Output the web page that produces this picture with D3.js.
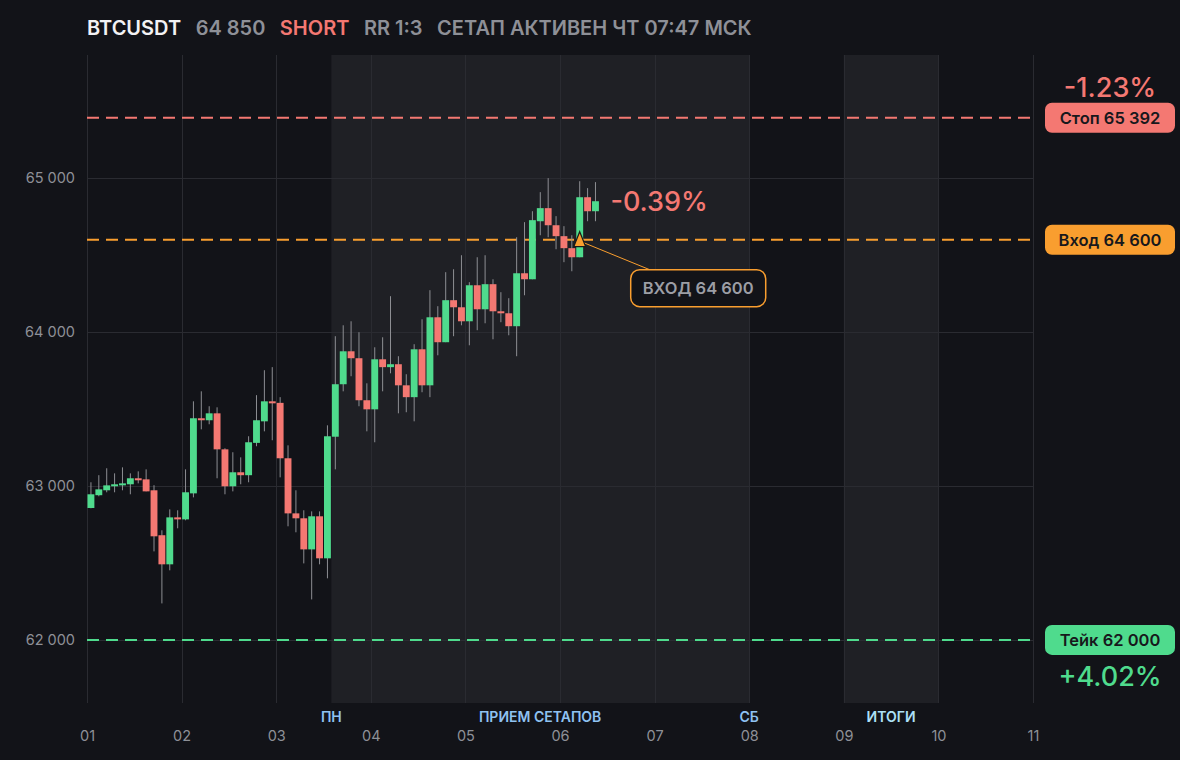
<!DOCTYPE html>
<html>
<head>
<meta charset="utf-8">
<script src="https://cdn.jsdelivr.net/npm/d3@7/dist/d3.min.js"></script>
<style>
  html, body { margin: 0; padding: 0; background: #121318; }
  svg text { font-family: Inter, "Noto Sans", sans-serif; }
</style>
</head>
<body>
<svg id="chart" width="1180" height="760"></svg>
<script>
// header
const symbol = "BTCUSDT"
const side = "SHORT"
const rrText = "RR 1:3"
const statusText = "СЕТАП АКТИВЕН ЧТ 07:47 МСК"

// 2h candles starting at day 01 00:00
const startDay = 1
const candleHours = 2
const opens  = [62857,62940,62972,62998,63005,63011,63050,63043,62972,62680,62491,62796,62783,62952,63440,63427,63472,63238,62998,63089,63070,63280,63420,63550,63540,63180,62822,62790,62588,62803,62530,63320,63661,63875,63830,63557,63498,63823,63772,63791,63654,63577,63888,63654,64096,63934,64207,64161,64070,64304,64148,64311,64135,64122,64038,64382,64343,64720,64805,64694,64623,64545,64486,64876,64785]
const highs  = [63024,63070,63115,63082,63121,63082,63095,63108,63005,62712,62848,62842,63108,63550,63615,63518,63511,63245,63219,63186,63323,63590,63752,63772,63577,63264,62972,62842,62835,62835,63394,63973,64044,64070,63999,63667,63901,63966,64233,63843,63726,63921,64083,64272,64168,64389,64408,64499,64324,64486,64499,64343,64259,64220,64616,64714,64785,64909,65000,64753,64688,64629,64980,64935,64974]
const lows   = [62855,62933,62959,62959,62972,62946,63017,62965,62575,62237,62452,62725,62777,62926,63368,63401,63050,62946,62965,63011,63024,63258,63355,63297,63056,62738,62699,62497,62263,62491,62400,63108,63615,63713,63518,63355,63284,63615,63732,63472,63479,63420,63609,63577,63849,63934,63973,64044,63914,64012,64057,63953,64064,63979,63843,64239,64343,64629,64616,64538,64454,64395,64486,64720,64720]
const closes = [62946,62978,63004,63011,63017,63050,63037,62965,62673,62491,62796,62783,62959,63440,63427,63472,63238,62998,63089,63070,63284,63427,63550,63537,63180,62822,62790,62588,62803,62530,63323,63661,63875,63830,63557,63498,63823,63772,63791,63654,63577,63888,63654,64096,63934,64207,64161,64070,64304,64148,64311,64135,64122,64038,64382,64343,64727,64805,64694,64623,64545,64486,64876,64785,64850]

// trade levels
const entryPrice = 64600
const stopPrice = 65392
const takePrice = 62000
const entryCandle = 62

// axes
const dayTicks = [1,2,3,4,5,6,7,8,9,10,11]
const priceTicks = [62000,63000,64000,65000]
const xDomain = [1, 11]
const yDomain = [61590, 65800]

// session bands (in days) and their captions
const bandStarts = [3.583, 9]
const bandEnds   = [8, 10]
const sessionLabels = ["ПН", "ПРИЕМ СЕТАПОВ", "СБ", "ИТОГИ"]
const sessionAt     = [3.583, 5.79, 8, 9.5]

const W = 1180, H = 760
const margin = {left: 87, right: 147, top: 55, bottom: 57}
const colors = {
	bg: "#121318", band: "#1f2025", grid: "#2a2b31", text: "#8e9097",
	up: "#4fdb8d", down: "#f47872", wick: "#8d8e93", entry: "#f99e2f",
	session: "#8fc2f2", session2: "#ade0f7"
}

const ru = d3.formatLocale({decimal: ",", thousands: "\u00a0", grouping: [3], currency: ["", ""], minus: "-"})
const fmtPrice = ru.format(",d")
const fmtPct = ru.format("+.2f")
const pnl = p => fmtPct((entryPrice - p) / entryPrice * 100).replace(",", ".") + "%"

const svg = d3.select("#chart")
svg.append("rect").attr("width", W).attr("height", H).attr("fill", colors.bg)

const x = d3.scaleLinear().domain(xDomain).range([margin.left, W - margin.right])
const y = d3.scaleLinear().domain(yDomain).range([H - margin.bottom, margin.top])
const plotTop = margin.top, plotBottom = H - margin.bottom

// session bands
svg.append("g").selectAll("rect").data(bandStarts).join("rect")
	.attr("x", (d, i) => x(d))
	.attr("width", (d, i) => x(bandEnds[i]) - x(d))
	.attr("y", plotTop).attr("height", plotBottom - plotTop)
	.attr("fill", colors.band)

// grid
svg.append("g").selectAll("line").data(dayTicks).join("line")
	.attr("x1", d => Math.round(x(d)) + 0.5).attr("x2", d => Math.round(x(d)) + 0.5)
	.attr("y1", plotTop).attr("y2", plotBottom)
	.attr("stroke", colors.grid).attr("stroke-width", 1)
svg.append("g").selectAll("line").data(priceTicks).join("line")
	.attr("x1", x.range()[0]).attr("x2", x.range()[1])
	.attr("y1", d => Math.round(y(d)) + 0.5).attr("y2", d => Math.round(y(d)) + 0.5)
	.attr("stroke", colors.grid).attr("stroke-width", 1)

// y axis labels
const yAxis = svg.append("g").attr("transform", `translate(${margin.left - 12},0)`)
	.call(d3.axisLeft(y).tickValues(priceTicks).tickFormat(fmtPrice).tickSize(0).tickPadding(0))
yAxis.select(".domain").remove()
yAxis.selectAll("text").attr("fill", colors.text).attr("font-size", 14.5)
	.attr("font-family", "Inter, sans-serif")

// x axis labels
const xAxis = svg.append("g").attr("transform", `translate(0,${plotBottom + 28})`)
	.call(d3.axisBottom(x).tickValues(dayTicks).tickFormat(d3.format("02d")).tickSize(0).tickPadding(0))
xAxis.select(".domain").remove()
xAxis.selectAll("text").attr("fill", colors.text).attr("font-size", 14.5)
	.attr("font-family", "Inter, sans-serif")

// session captions
svg.append("g").selectAll("text").data(sessionLabels).join("text")
	.attr("x", (d, i) => x(sessionAt[i]))
	.attr("y", plotBottom + 19)
	.attr("text-anchor", "middle")
	.attr("font-size", 14).attr("font-weight", 600)
	.attr("fill", (d, i) => i == 3 ? colors.session2 : colors.session)
	.text(d => d)

// level lines
const levels = [
	{price: stopPrice, color: colors.down, label: "Стоп"},
	{price: entryPrice, color: colors.entry, label: "Вход"},
	{price: takePrice, color: colors.up, label: "Тейк"}
]
svg.append("g").selectAll("line").data(levels).join("line")
	.attr("x1", x.range()[0]).attr("x2", x.range()[1])
	.attr("y1", d => y(d.price)).attr("y2", d => y(d.price))
	.attr("stroke", d => d.color).attr("stroke-width", 2)
	.attr("stroke-dasharray", "12,7")

// candles
const idx = d3.range(opens.length)
const t0 = i => startDay + i * candleHours / 24
const step = x(t0(1)) - x(t0(0))
const candles = svg.append("g")
candles.selectAll("line").data(idx).join("line")
	.attr("x1", i => x(t0(i)) + step / 2).attr("x2", i => x(t0(i)) + step / 2)
	.attr("y1", i => y(highs[i])).attr("y2", i => y(lows[i]))
	.attr("stroke", colors.wick).attr("stroke-width", 1)
candles.selectAll("rect").data(idx).join("rect")
	.attr("x", i => x(t0(i)) + 0.5)
	.attr("width", step - 1)
	.attr("y", i => y(Math.max(opens[i], closes[i])))
	.attr("height", i => Math.max(2, Math.abs(y(opens[i]) - y(closes[i]))))
	.attr("fill", i => closes[i] >= opens[i] ? colors.up : colors.down)

// current pnl next to last candle
const last = opens.length - 1
const lastPrice = closes[last]
svg.append("text")
	.attr("x", x(t0(last + 1)) + 11)
	.attr("y", y(lastPrice) + 10)
	.attr("font-size", 27).attr("font-weight", 500)
	.attr("fill", colors.down)
	.text(pnl(lastPrice))

// entry marker + callout
const ex = x(t0(entryCandle)) + step / 2, ey = y(entryPrice)
svg.append("line")
	.attr("x1", ex + 4).attr("y1", ey + 3)
	.attr("x2", ex + 70).attr("y2", ey + 30)
	.attr("stroke", colors.entry).attr("stroke-width", 1)
svg.append("path")
	.attr("d", `M${ex},${ey - 8}L${ex + 6},${ey + 7}L${ex - 6},${ey + 7}Z`)
	.attr("fill", colors.entry).attr("stroke", "#1a1a1a").attr("stroke-width", 1.2)
svg.append("rect")
	.attr("x", ex + 51).attr("y", ey + 30)
	.attr("width", 135).attr("height", 37).attr("rx", 9)
	.attr("fill", colors.bg).attr("stroke", colors.entry).attr("stroke-width", 1.5)
svg.append("text")
	.attr("x", ex + 51 + 67.5).attr("y", ey + 30 + 24)
	.attr("text-anchor", "middle")
	.attr("font-size", 16.5).attr("font-weight", 600)
	.attr("fill", "#9c9ea5")
	.text("ВХОД " + fmtPrice(entryPrice))

// right price tags
const tagX = x.range()[1] + 12, tagW = 130, tagH = 30
const tags = svg.append("g").selectAll("g").data(levels).join("g")
	.attr("transform", d => `translate(${tagX},${y(d.price) - tagH / 2})`)
tags.append("rect").attr("width", tagW).attr("height", tagH).attr("rx", 7)
	.attr("fill", d => d.color)
tags.append("text").attr("x", tagW / 2).attr("y", 21)
	.attr("text-anchor", "middle")
	.attr("font-size", 16.5).attr("font-weight", 600).attr("fill", "#17181c")
	.text(d => d.label + " " + fmtPrice(d.price))

svg.append("text")
	.attr("x", tagX + tagW / 2).attr("y", y(stopPrice) - tagH / 2 - 6)
	.attr("text-anchor", "middle").attr("font-size", 27).attr("font-weight", 500)
	.attr("fill", colors.down).text(pnl(stopPrice))
svg.append("text")
	.attr("x", tagX + tagW / 2).attr("y", y(takePrice) + tagH / 2 + 31)
	.attr("text-anchor", "middle").attr("font-size", 27).attr("font-weight", 500)
	.attr("fill", colors.up).text(pnl(takePrice))

// header
const header = [
	{t: symbol, c: "#f2f2f4"},
	{t: fmtPrice(lastPrice), c: colors.text},
	{t: side, c: colors.down},
	{t: rrText, c: colors.text},
	{t: statusText, c: colors.text}
]
let hx = margin.left
header.forEach(h => {
	const node = svg.append("text")
		.attr("x", hx).attr("y", 35)
		.attr("font-size", 20).attr("font-weight", 600)
		.attr("fill", h.c).text(h.t)
	hx += node.node().getComputedTextLength() + 14.5
})
</script>
</body>
</html>
